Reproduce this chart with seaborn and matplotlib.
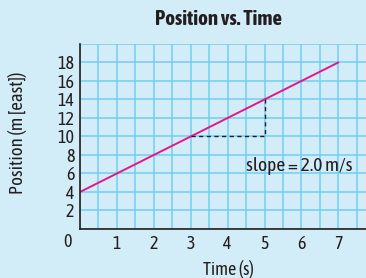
import pandas as pd
import matplotlib
matplotlib.use("Agg")
import matplotlib.pyplot as plt
from matplotlib.ticker import MultipleLocator
import seaborn as sns

# data
time_s = [0, 7]
position_m = [4, 18]
rise_x = [3, 5, 5]
rise_y = [10, 10, 14]
x_ticks = [1, 2, 3, 4, 5, 6, 7]
y_ticks = [2, 4, 6, 8, 10, 12, 14, 16, 18]

bg = "#d2ecf8"
grid_col = "#72cdf2"
line_col = "#e5168a"
text_col = "#231f20"

sns.set_style("white")
plt.rcParams['font.family'] = ['Asap Condensed', 'DejaVu Sans']

df = pd.DataFrame({'Time': time_s, 'Position': position_m})

fig = plt.figure(figsize=(3.66, 2.78), dpi=100, facecolor=bg)
ax = fig.add_axes([0.2186, 0.1763, 0.7814, 0.6655])
ax.set_facecolor(bg)

sns.lineplot(data=df, x='Time', y='Position', color=line_col, lw=1.4, ax=ax)
ax.plot(rise_x, rise_y, color=text_col, lw=1.0, ls=(0, (3, 2.5)))

ax.set_xlim(0, 7.75)
ax.set_ylim(0, 20)
ax.set_xticks(x_ticks)
ax.set_yticks(y_ticks)
ax.xaxis.set_minor_locator(MultipleLocator(0.5))
ax.yaxis.set_minor_locator(MultipleLocator(2))
ax.grid(which='both', color=grid_col, lw=1.1)
ax.set_axisbelow(True)

ax.tick_params(which='major', direction='in', length=4, width=1, color=text_col,
               labelsize=13, labelcolor=text_col, pad=4)
ax.tick_params(which='minor', length=0)
for s in ['top', 'right']:
    ax.spines[s].set_visible(False)
for s in ['left', 'bottom']:
    ax.spines[s].set_color(text_col)
    ax.spines[s].set_linewidth(1.2)

ax.annotate('0', xy=(0, 0), xytext=(-9, -3), textcoords='offset points',
            ha='center', va='top', fontsize=13, color=text_col)

ax.text(4.5, 6.8, 'slope = 2.0 m/s', fontsize=14, color=text_col, va='center', ha='left')

ax.set_xlabel('Time (s)', fontsize=13, color=text_col, va='center')
ax.set_ylabel('Position (m [east])', fontsize=13.5, color=text_col, va='center')
ax.xaxis.set_label_coords(0.519, -0.22)
ax.yaxis.set_label_coords(-0.217, 0.52)
fig.text(0.598, 0.93, 'Position vs. Time', ha='center', va='center',
         fontsize=15, fontweight='bold', color=text_col)

fig.savefig('out.png', dpi=100, facecolor=bg)
